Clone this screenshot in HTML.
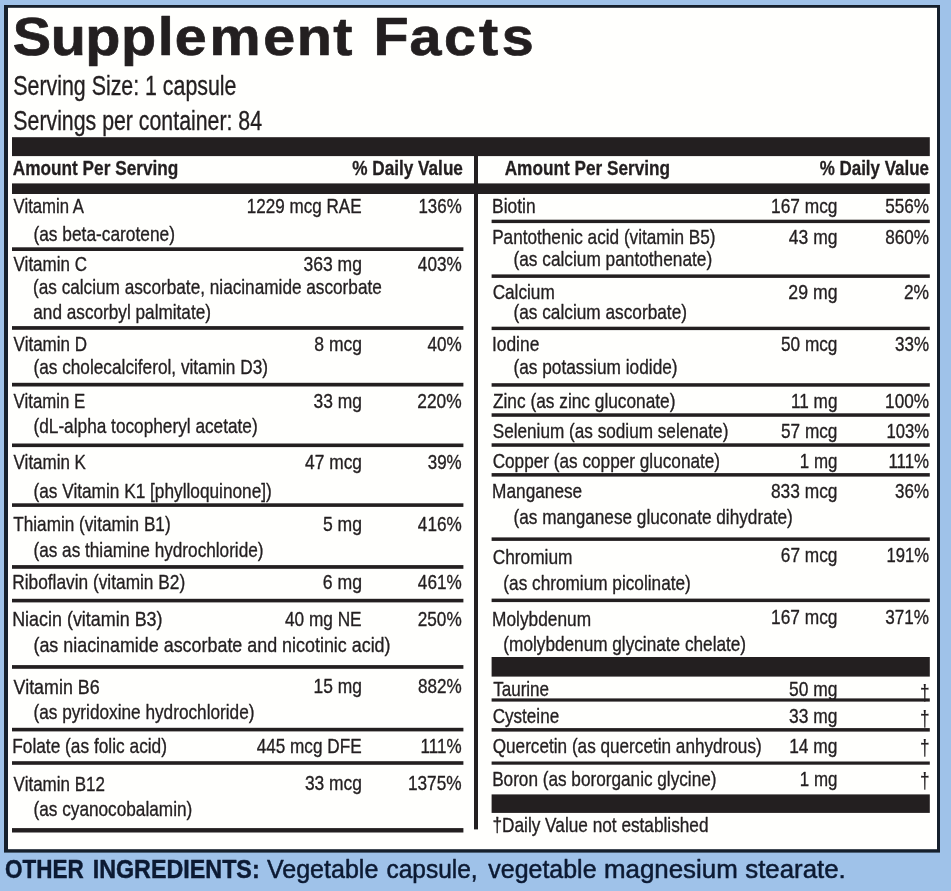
<!DOCTYPE html>
<html lang="en"><head><meta charset="utf-8"><title>Supplement Facts</title>
<style>
html,body{margin:0;padding:0;background:#9fc2e9;}
body{width:951px;height:891px;overflow:hidden;}
svg{display:block;}
text{font-family:"Liberation Sans",sans-serif;white-space:pre;}
.b{font-weight:bold;}
</style></head><body>
<svg width="951" height="891" viewBox="0 0 951 891">
<rect x="0" y="0" width="951" height="891" fill="#9fc2e9"/>
<rect x="4" y="5" width="936" height="847.6" fill="#16202c"/>
<rect x="8" y="7.8" width="929" height="841.4" fill="#fffffd"/>

<rect x="12.00" y="137.20" width="917.80" height="18.90" fill="#231f20"/>
<rect x="12.00" y="183.40" width="917.80" height="10.60" fill="#231f20"/>
<rect x="474.00" y="150.00" width="4.00" height="679.40" fill="#231f20"/>
<rect x="12.00" y="247.30" width="451.40" height="3.70" fill="#231f20"/>
<rect x="12.00" y="326.10" width="451.40" height="3.70" fill="#231f20"/>
<rect x="12.00" y="382.80" width="451.40" height="3.70" fill="#231f20"/>
<rect x="12.00" y="443.50" width="451.40" height="3.60" fill="#231f20"/>
<rect x="12.00" y="503.30" width="451.40" height="3.60" fill="#231f20"/>
<rect x="12.00" y="565.10" width="451.40" height="3.70" fill="#231f20"/>
<rect x="12.00" y="598.80" width="451.40" height="3.60" fill="#231f20"/>
<rect x="12.00" y="665.10" width="451.40" height="3.70" fill="#231f20"/>
<rect x="12.00" y="727.80" width="451.40" height="3.60" fill="#231f20"/>
<rect x="12.00" y="761.20" width="451.40" height="3.60" fill="#231f20"/>
<rect x="12.00" y="828.10" width="451.40" height="4.40" fill="#231f20"/>
<rect x="491.60" y="219.70" width="438.20" height="3.40" fill="#231f20"/>
<rect x="491.60" y="274.40" width="438.20" height="3.50" fill="#231f20"/>
<rect x="491.60" y="326.70" width="438.20" height="3.40" fill="#231f20"/>
<rect x="491.60" y="383.20" width="438.20" height="3.50" fill="#231f20"/>
<rect x="491.60" y="413.30" width="438.20" height="3.50" fill="#231f20"/>
<rect x="491.60" y="443.30" width="438.20" height="3.50" fill="#231f20"/>
<rect x="491.60" y="473.10" width="438.20" height="3.50" fill="#231f20"/>
<rect x="491.60" y="537.40" width="438.20" height="3.50" fill="#231f20"/>
<rect x="491.60" y="598.60" width="438.20" height="3.50" fill="#231f20"/>
<rect x="491.60" y="698.40" width="438.20" height="3.20" fill="#231f20"/>
<rect x="491.60" y="728.10" width="438.20" height="3.50" fill="#231f20"/>
<rect x="491.60" y="761.50" width="438.20" height="3.20" fill="#231f20"/>
<rect x="491.60" y="657.00" width="438.20" height="19.60" fill="#231f20"/>
<rect x="491.60" y="794.40" width="438.20" height="18.50" fill="#231f20"/>
<text class="b" transform="scale(1.085,1)" x="11.77 46.69 78.56 111.47 145.43 161.15 193.15 242.58 273.56 307.25 331.80 344.24 377.36 409.27 441.49 462.53" y="55.5" font-size="53.0" fill="#231f20" stroke="#231f20" stroke-width="0.7" stroke-linejoin="round">Supplement Facts</text>
<text x="13.34" y="94.80" font-size="27.0" fill="#231f20" stroke="#231f20" stroke-width="0.35" stroke-linejoin="round" textLength="223.14" lengthAdjust="spacingAndGlyphs">Serving Size: 1 capsule</text>
<text x="13.34" y="129.60" font-size="27.0" fill="#231f20" stroke="#231f20" stroke-width="0.35" stroke-linejoin="round" textLength="248.72" lengthAdjust="spacingAndGlyphs">Servings per container: 84</text>
<text class="b" x="12.76" y="174.90" font-size="20.3" fill="#231f20" stroke="#231f20" stroke-width="0.3" stroke-linejoin="round" textLength="165.58" lengthAdjust="spacingAndGlyphs">Amount Per Serving</text>
<text class="b" x="352.26" y="174.90" font-size="20.3" fill="#231f20" stroke="#231f20" stroke-width="0.3" stroke-linejoin="round" textLength="110.68" lengthAdjust="spacingAndGlyphs">% Daily Value</text>
<text class="b" x="504.66" y="174.90" font-size="20.3" fill="#231f20" stroke="#231f20" stroke-width="0.3" stroke-linejoin="round" textLength="165.48" lengthAdjust="spacingAndGlyphs">Amount Per Serving</text>
<text class="b" x="819.66" y="174.90" font-size="20.3" fill="#231f20" stroke="#231f20" stroke-width="0.3" stroke-linejoin="round" textLength="109.37" lengthAdjust="spacingAndGlyphs">% Daily Value</text>
<text x="13.60" y="212.70" font-size="20.8" fill="#231f20" stroke="#231f20" stroke-width="0.35" stroke-linejoin="round" textLength="70.35" lengthAdjust="spacingAndGlyphs">Vitamin A</text>
<text x="246.82" y="212.70" font-size="20.8" fill="#231f20" stroke="#231f20" stroke-width="0.35" stroke-linejoin="round" textLength="114.80" lengthAdjust="spacingAndGlyphs">1229 mcg RAE</text>
<text x="418.43" y="212.70" font-size="20.8" fill="#231f20" stroke="#231f20" stroke-width="0.35" stroke-linejoin="round" textLength="43.25" lengthAdjust="spacingAndGlyphs">136%</text>
<text x="33.46" y="241.40" font-size="20.8" fill="#231f20" stroke="#231f20" stroke-width="0.35" stroke-linejoin="round" textLength="141.54" lengthAdjust="spacingAndGlyphs">(as beta-carotene)</text>
<text x="13.60" y="271.30" font-size="20.8" fill="#231f20" stroke="#231f20" stroke-width="0.35" stroke-linejoin="round" textLength="73.33" lengthAdjust="spacingAndGlyphs">Vitamin C</text>
<text x="303.49" y="271.30" font-size="20.8" fill="#231f20" stroke="#231f20" stroke-width="0.35" stroke-linejoin="round" textLength="58.49" lengthAdjust="spacingAndGlyphs">363 mg</text>
<text x="417.86" y="271.30" font-size="20.8" fill="#231f20" stroke="#231f20" stroke-width="0.35" stroke-linejoin="round" textLength="43.83" lengthAdjust="spacingAndGlyphs">403%</text>
<text x="32.97" y="294.40" font-size="20.8" fill="#231f20" stroke="#231f20" stroke-width="0.35" stroke-linejoin="round" textLength="348.84" lengthAdjust="spacingAndGlyphs">(as calcium ascorbate, niacinamide ascorbate</text>
<text x="33.31" y="318.60" font-size="20.8" fill="#231f20" stroke="#231f20" stroke-width="0.35" stroke-linejoin="round" textLength="177.68" lengthAdjust="spacingAndGlyphs">and ascorbyl palmitate)</text>
<text x="13.60" y="350.80" font-size="20.8" fill="#231f20" stroke="#231f20" stroke-width="0.35" stroke-linejoin="round" textLength="73.50" lengthAdjust="spacingAndGlyphs">Vitamin D</text>
<text x="314.30" y="350.80" font-size="20.8" fill="#231f20" stroke="#231f20" stroke-width="0.35" stroke-linejoin="round" textLength="47.67" lengthAdjust="spacingAndGlyphs">8 mcg</text>
<text x="427.46" y="350.80" font-size="20.8" fill="#231f20" stroke="#231f20" stroke-width="0.35" stroke-linejoin="round" textLength="34.23" lengthAdjust="spacingAndGlyphs">40%</text>
<text x="33.47" y="373.90" font-size="20.8" fill="#231f20" stroke="#231f20" stroke-width="0.35" stroke-linejoin="round" textLength="234.53" lengthAdjust="spacingAndGlyphs">(as cholecalciferol, vitamin D3)</text>
<text x="13.60" y="407.50" font-size="20.8" fill="#231f20" stroke="#231f20" stroke-width="0.35" stroke-linejoin="round" textLength="71.61" lengthAdjust="spacingAndGlyphs">Vitamin E</text>
<text x="313.59" y="407.50" font-size="20.8" fill="#231f20" stroke="#231f20" stroke-width="0.35" stroke-linejoin="round" textLength="48.37" lengthAdjust="spacingAndGlyphs">33 mg</text>
<text x="417.33" y="407.50" font-size="20.8" fill="#231f20" stroke="#231f20" stroke-width="0.35" stroke-linejoin="round" textLength="44.36" lengthAdjust="spacingAndGlyphs">220%</text>
<text x="33.47" y="433.20" font-size="20.8" fill="#231f20" stroke="#231f20" stroke-width="0.35" stroke-linejoin="round" textLength="224.23" lengthAdjust="spacingAndGlyphs">(dL-alpha tocopheryl acetate)</text>
<text x="13.60" y="469.40" font-size="20.8" fill="#231f20" stroke="#231f20" stroke-width="0.35" stroke-linejoin="round" textLength="72.32" lengthAdjust="spacingAndGlyphs">Vitamin K</text>
<text x="305.05" y="469.40" font-size="20.8" fill="#231f20" stroke="#231f20" stroke-width="0.35" stroke-linejoin="round" textLength="56.91" lengthAdjust="spacingAndGlyphs">47 mcg</text>
<text x="427.71" y="469.40" font-size="20.8" fill="#231f20" stroke="#231f20" stroke-width="0.35" stroke-linejoin="round" textLength="33.97" lengthAdjust="spacingAndGlyphs">39%</text>
<text x="33.47" y="498.10" font-size="20.8" fill="#231f20" stroke="#231f20" stroke-width="0.35" stroke-linejoin="round" textLength="238.33" lengthAdjust="spacingAndGlyphs">(as Vitamin K1 [phylloquinone])</text>
<text x="13.26" y="530.50" font-size="20.8" fill="#231f20" stroke="#231f20" stroke-width="0.35" stroke-linejoin="round" textLength="157.34" lengthAdjust="spacingAndGlyphs">Thiamin (vitamin B1)</text>
<text x="322.90" y="530.50" font-size="20.8" fill="#231f20" stroke="#231f20" stroke-width="0.35" stroke-linejoin="round" textLength="39.08" lengthAdjust="spacingAndGlyphs">5 mg</text>
<text x="417.86" y="530.50" font-size="20.8" fill="#231f20" stroke="#231f20" stroke-width="0.35" stroke-linejoin="round" textLength="43.83" lengthAdjust="spacingAndGlyphs">416%</text>
<text x="33.47" y="557.40" font-size="20.8" fill="#231f20" stroke="#231f20" stroke-width="0.35" stroke-linejoin="round" textLength="230.03" lengthAdjust="spacingAndGlyphs">(as as thiamine hydrochloride)</text>
<text x="12.22" y="589.30" font-size="20.8" fill="#231f20" stroke="#231f20" stroke-width="0.35" stroke-linejoin="round" textLength="172.99" lengthAdjust="spacingAndGlyphs">Riboflavin (vitamin B2)</text>
<text x="322.72" y="589.30" font-size="20.8" fill="#231f20" stroke="#231f20" stroke-width="0.35" stroke-linejoin="round" textLength="39.26" lengthAdjust="spacingAndGlyphs">6 mg</text>
<text x="417.86" y="589.30" font-size="20.8" fill="#231f20" stroke="#231f20" stroke-width="0.35" stroke-linejoin="round" textLength="43.83" lengthAdjust="spacingAndGlyphs">461%</text>
<text x="12.17" y="625.80" font-size="20.8" fill="#231f20" stroke="#231f20" stroke-width="0.35" stroke-linejoin="round" textLength="150.37" lengthAdjust="spacingAndGlyphs">Niacin (vitamin B3)</text>
<text x="284.96" y="625.80" font-size="20.8" fill="#231f20" stroke="#231f20" stroke-width="0.35" stroke-linejoin="round" textLength="76.67" lengthAdjust="spacingAndGlyphs">40 mg NE</text>
<text x="417.74" y="625.80" font-size="20.8" fill="#231f20" stroke="#231f20" stroke-width="0.35" stroke-linejoin="round" textLength="43.95" lengthAdjust="spacingAndGlyphs">250%</text>
<text x="33.43" y="652.00" font-size="20.8" fill="#231f20" stroke="#231f20" stroke-width="0.35" stroke-linejoin="round" textLength="357.11" lengthAdjust="spacingAndGlyphs">(as niacinamide ascorbate and nicotinic acid)</text>
<text x="13.60" y="693.90" font-size="20.8" fill="#231f20" stroke="#231f20" stroke-width="0.35" stroke-linejoin="round" textLength="86.03" lengthAdjust="spacingAndGlyphs">Vitamin B6</text>
<text x="313.59" y="693.40" font-size="20.8" fill="#231f20" stroke="#231f20" stroke-width="0.35" stroke-linejoin="round" textLength="48.37" lengthAdjust="spacingAndGlyphs">15 mg</text>
<text x="417.92" y="693.40" font-size="20.8" fill="#231f20" stroke="#231f20" stroke-width="0.35" stroke-linejoin="round" textLength="43.77" lengthAdjust="spacingAndGlyphs">882%</text>
<text x="33.47" y="719.10" font-size="20.8" fill="#231f20" stroke="#231f20" stroke-width="0.35" stroke-linejoin="round" textLength="221.03" lengthAdjust="spacingAndGlyphs">(as pyridoxine hydrochloride)</text>
<text x="12.22" y="752.70" font-size="20.8" fill="#231f20" stroke="#231f20" stroke-width="0.35" stroke-linejoin="round" textLength="154.79" lengthAdjust="spacingAndGlyphs">Folate (as folic acid)</text>
<text x="256.66" y="752.70" font-size="20.8" fill="#231f20" stroke="#231f20" stroke-width="0.35" stroke-linejoin="round" textLength="104.96" lengthAdjust="spacingAndGlyphs">445 mcg DFE</text>
<text x="420.62" y="752.70" font-size="20.8" fill="#231f20" stroke="#231f20" stroke-width="0.35" stroke-linejoin="round" textLength="41.06" lengthAdjust="spacingAndGlyphs">111%</text>
<text x="13.60" y="791.10" font-size="20.8" fill="#231f20" stroke="#231f20" stroke-width="0.35" stroke-linejoin="round" textLength="91.38" lengthAdjust="spacingAndGlyphs">Vitamin B12</text>
<text x="304.89" y="790.00" font-size="20.8" fill="#231f20" stroke="#231f20" stroke-width="0.35" stroke-linejoin="round" textLength="57.07" lengthAdjust="spacingAndGlyphs">33 mcg</text>
<text x="407.90" y="790.00" font-size="20.8" fill="#231f20" stroke="#231f20" stroke-width="0.35" stroke-linejoin="round" textLength="53.79" lengthAdjust="spacingAndGlyphs">1375%</text>
<text x="33.47" y="816.20" font-size="20.8" fill="#231f20" stroke="#231f20" stroke-width="0.35" stroke-linejoin="round" textLength="158.83" lengthAdjust="spacingAndGlyphs">(as cyanocobalamin)</text>
<text x="492.11" y="212.70" font-size="20.8" fill="#231f20" stroke="#231f20" stroke-width="0.35" stroke-linejoin="round" textLength="43.45" lengthAdjust="spacingAndGlyphs">Biotin</text>
<text x="771.00" y="212.70" font-size="20.8" fill="#231f20" stroke="#231f20" stroke-width="0.35" stroke-linejoin="round" textLength="66.46" lengthAdjust="spacingAndGlyphs">167 mcg</text>
<text x="885.21" y="212.70" font-size="20.8" fill="#231f20" stroke="#231f20" stroke-width="0.35" stroke-linejoin="round" textLength="43.87" lengthAdjust="spacingAndGlyphs">556%</text>
<text x="492.13" y="243.50" font-size="20.8" fill="#231f20" stroke="#231f20" stroke-width="0.35" stroke-linejoin="round" textLength="223.37" lengthAdjust="spacingAndGlyphs">Pantothenic acid (vitamin B5)</text>
<text x="788.85" y="243.50" font-size="20.8" fill="#231f20" stroke="#231f20" stroke-width="0.35" stroke-linejoin="round" textLength="48.62" lengthAdjust="spacingAndGlyphs">43 mg</text>
<text x="885.21" y="243.50" font-size="20.8" fill="#231f20" stroke="#231f20" stroke-width="0.35" stroke-linejoin="round" textLength="43.87" lengthAdjust="spacingAndGlyphs">860%</text>
<text x="513.46" y="266.10" font-size="20.8" fill="#231f20" stroke="#231f20" stroke-width="0.35" stroke-linejoin="round" textLength="198.74" lengthAdjust="spacingAndGlyphs">(as calcium pantothenate)</text>
<text x="492.64" y="298.50" font-size="20.8" fill="#231f20" stroke="#231f20" stroke-width="0.35" stroke-linejoin="round" textLength="62.14" lengthAdjust="spacingAndGlyphs">Calcium</text>
<text x="788.32" y="298.50" font-size="20.8" fill="#231f20" stroke="#231f20" stroke-width="0.35" stroke-linejoin="round" textLength="49.17" lengthAdjust="spacingAndGlyphs">29 mg</text>
<text x="903.93" y="298.50" font-size="20.8" fill="#231f20" stroke="#231f20" stroke-width="0.35" stroke-linejoin="round" textLength="25.17" lengthAdjust="spacingAndGlyphs">2%</text>
<text x="513.46" y="318.60" font-size="20.8" fill="#231f20" stroke="#231f20" stroke-width="0.35" stroke-linejoin="round" textLength="173.54" lengthAdjust="spacingAndGlyphs">(as calcium ascorbate)</text>
<text x="491.93" y="350.80" font-size="20.8" fill="#231f20" stroke="#231f20" stroke-width="0.35" stroke-linejoin="round" textLength="47.38" lengthAdjust="spacingAndGlyphs">Iodine</text>
<text x="781.01" y="350.80" font-size="20.8" fill="#231f20" stroke="#231f20" stroke-width="0.35" stroke-linejoin="round" textLength="56.44" lengthAdjust="spacingAndGlyphs">50 mcg</text>
<text x="895.11" y="350.80" font-size="20.8" fill="#231f20" stroke="#231f20" stroke-width="0.35" stroke-linejoin="round" textLength="33.97" lengthAdjust="spacingAndGlyphs">33%</text>
<text x="513.46" y="373.90" font-size="20.8" fill="#231f20" stroke="#231f20" stroke-width="0.35" stroke-linejoin="round" textLength="164.14" lengthAdjust="spacingAndGlyphs">(as potassium iodide)</text>
<text x="492.98" y="407.50" font-size="20.8" fill="#231f20" stroke="#231f20" stroke-width="0.35" stroke-linejoin="round" textLength="182.52" lengthAdjust="spacingAndGlyphs">Zinc (as zinc gluconate)</text>
<text x="791.01" y="407.50" font-size="20.8" fill="#231f20" stroke="#231f20" stroke-width="0.35" stroke-linejoin="round" textLength="46.44" lengthAdjust="spacingAndGlyphs">11 mg</text>
<text x="885.11" y="407.50" font-size="20.8" fill="#231f20" stroke="#231f20" stroke-width="0.35" stroke-linejoin="round" textLength="43.98" lengthAdjust="spacingAndGlyphs">100%</text>
<text x="492.73" y="437.80" font-size="20.8" fill="#231f20" stroke="#231f20" stroke-width="0.35" stroke-linejoin="round" textLength="235.67" lengthAdjust="spacingAndGlyphs">Selenium (as sodium selenate)</text>
<text x="781.01" y="437.80" font-size="20.8" fill="#231f20" stroke="#231f20" stroke-width="0.35" stroke-linejoin="round" textLength="56.44" lengthAdjust="spacingAndGlyphs">57 mcg</text>
<text x="886.45" y="437.80" font-size="20.8" fill="#231f20" stroke="#231f20" stroke-width="0.35" stroke-linejoin="round" textLength="42.62" lengthAdjust="spacingAndGlyphs">103%</text>
<text x="492.64" y="468.10" font-size="20.8" fill="#231f20" stroke="#231f20" stroke-width="0.35" stroke-linejoin="round" textLength="227.46" lengthAdjust="spacingAndGlyphs">Copper (as copper gluconate)</text>
<text x="799.83" y="468.10" font-size="20.8" fill="#231f20" stroke="#231f20" stroke-width="0.35" stroke-linejoin="round" textLength="37.60" lengthAdjust="spacingAndGlyphs">1 mg</text>
<text x="888.43" y="468.10" font-size="20.8" fill="#231f20" stroke="#231f20" stroke-width="0.35" stroke-linejoin="round" textLength="40.64" lengthAdjust="spacingAndGlyphs">111%</text>
<text x="492.12" y="497.70" font-size="20.8" fill="#231f20" stroke="#231f20" stroke-width="0.35" stroke-linejoin="round" textLength="90.09" lengthAdjust="spacingAndGlyphs">Manganese</text>
<text x="770.91" y="497.70" font-size="20.8" fill="#231f20" stroke="#231f20" stroke-width="0.35" stroke-linejoin="round" textLength="66.56" lengthAdjust="spacingAndGlyphs">833 mcg</text>
<text x="895.11" y="497.70" font-size="20.8" fill="#231f20" stroke="#231f20" stroke-width="0.35" stroke-linejoin="round" textLength="33.97" lengthAdjust="spacingAndGlyphs">36%</text>
<text x="513.47" y="524.10" font-size="20.8" fill="#231f20" stroke="#231f20" stroke-width="0.35" stroke-linejoin="round" textLength="279.33" lengthAdjust="spacingAndGlyphs">(as manganese gluconate dihydrate)</text>
<text x="492.63" y="563.50" font-size="20.8" fill="#231f20" stroke="#231f20" stroke-width="0.35" stroke-linejoin="round" textLength="79.86" lengthAdjust="spacingAndGlyphs">Chromium</text>
<text x="780.84" y="561.50" font-size="20.8" fill="#231f20" stroke="#231f20" stroke-width="0.35" stroke-linejoin="round" textLength="56.62" lengthAdjust="spacingAndGlyphs">67 mcg</text>
<text x="886.45" y="561.50" font-size="20.8" fill="#231f20" stroke="#231f20" stroke-width="0.35" stroke-linejoin="round" textLength="42.62" lengthAdjust="spacingAndGlyphs">191%</text>
<text x="503.37" y="589.70" font-size="20.8" fill="#231f20" stroke="#231f20" stroke-width="0.35" stroke-linejoin="round" textLength="187.43" lengthAdjust="spacingAndGlyphs">(as chromium picolinate)</text>
<text x="492.12" y="625.80" font-size="20.8" fill="#231f20" stroke="#231f20" stroke-width="0.35" stroke-linejoin="round" textLength="98.97" lengthAdjust="spacingAndGlyphs">Molybdenum</text>
<text x="771.00" y="624.30" font-size="20.8" fill="#231f20" stroke="#231f20" stroke-width="0.35" stroke-linejoin="round" textLength="66.46" lengthAdjust="spacingAndGlyphs">167 mcg</text>
<text x="885.30" y="624.30" font-size="20.8" fill="#231f20" stroke="#231f20" stroke-width="0.35" stroke-linejoin="round" textLength="43.78" lengthAdjust="spacingAndGlyphs">371%</text>
<text x="503.37" y="650.70" font-size="20.8" fill="#231f20" stroke="#231f20" stroke-width="0.35" stroke-linejoin="round" textLength="242.73" lengthAdjust="spacingAndGlyphs">(molybdenum glycinate chelate)</text>
<text x="493.16" y="695.80" font-size="20.8" fill="#231f20" stroke="#231f20" stroke-width="0.35" stroke-linejoin="round" textLength="55.94" lengthAdjust="spacingAndGlyphs">Taurine</text>
<text x="789.00" y="695.80" font-size="20.8" fill="#231f20" stroke="#231f20" stroke-width="0.35" stroke-linejoin="round" textLength="48.46" lengthAdjust="spacingAndGlyphs">50 mg</text>
<text x="920.08" y="699.50" font-size="22.0" fill="#231f20" stroke="#231f20" stroke-width="0.25" stroke-linejoin="round" textLength="9.55" lengthAdjust="spacingAndGlyphs">†</text>
<text x="492.64" y="723.40" font-size="20.8" fill="#231f20" stroke="#231f20" stroke-width="0.35" stroke-linejoin="round" textLength="66.56" lengthAdjust="spacingAndGlyphs">Cysteine</text>
<text x="789.09" y="723.40" font-size="20.8" fill="#231f20" stroke="#231f20" stroke-width="0.35" stroke-linejoin="round" textLength="48.37" lengthAdjust="spacingAndGlyphs">33 mg</text>
<text x="920.08" y="726.00" font-size="22.0" fill="#231f20" stroke="#231f20" stroke-width="0.25" stroke-linejoin="round" textLength="9.55" lengthAdjust="spacingAndGlyphs">†</text>
<text x="492.73" y="752.60" font-size="20.8" fill="#231f20" stroke="#231f20" stroke-width="0.35" stroke-linejoin="round" textLength="268.97" lengthAdjust="spacingAndGlyphs">Quercetin (as quercetin anhydrous)</text>
<text x="789.20" y="753.20" font-size="20.8" fill="#231f20" stroke="#231f20" stroke-width="0.35" stroke-linejoin="round" textLength="48.26" lengthAdjust="spacingAndGlyphs">14 mg</text>
<text x="920.08" y="755.00" font-size="22.0" fill="#231f20" stroke="#231f20" stroke-width="0.25" stroke-linejoin="round" textLength="9.55" lengthAdjust="spacingAndGlyphs">†</text>
<text x="492.13" y="786.20" font-size="20.8" fill="#231f20" stroke="#231f20" stroke-width="0.35" stroke-linejoin="round" textLength="224.37" lengthAdjust="spacingAndGlyphs">Boron (as bororganic glycine)</text>
<text x="799.83" y="786.20" font-size="20.8" fill="#231f20" stroke="#231f20" stroke-width="0.35" stroke-linejoin="round" textLength="37.60" lengthAdjust="spacingAndGlyphs">1 mg</text>
<text x="920.08" y="788.30" font-size="22.0" fill="#231f20" stroke="#231f20" stroke-width="0.25" stroke-linejoin="round" textLength="9.55" lengthAdjust="spacingAndGlyphs">†</text>
<text x="492.48" y="832.40" font-size="20.8" fill="#231f20" stroke="#231f20" stroke-width="0.35" stroke-linejoin="round" textLength="216.07" lengthAdjust="spacingAndGlyphs">†Daily Value not established</text>
<text y="877.60" font-size="25.6" fill="#0c1a33">
<tspan x="5.10" font-weight="bold" stroke="#0c1a33" stroke-width="0.45" stroke-linejoin="round" textLength="78.69" lengthAdjust="spacingAndGlyphs">OTHER</tspan> <tspan x="92.69" font-weight="bold" stroke="#0c1a33" stroke-width="0.45" stroke-linejoin="round" textLength="166.98" lengthAdjust="spacingAndGlyphs">INGREDIENTS:</tspan> <tspan x="266.90" stroke="#0c1a33" stroke-width="0.5" stroke-linejoin="round" textLength="111.43" lengthAdjust="spacingAndGlyphs">Vegetable</tspan> <tspan x="386.42" stroke="#0c1a33" stroke-width="0.5" stroke-linejoin="round" textLength="91.23" lengthAdjust="spacingAndGlyphs">capsule,</tspan> <tspan x="488.30" stroke="#0c1a33" stroke-width="0.5" stroke-linejoin="round" textLength="108.23" lengthAdjust="spacingAndGlyphs">vegetable</tspan> <tspan x="603.92" stroke="#0c1a33" stroke-width="0.5" stroke-linejoin="round" textLength="133.92" lengthAdjust="spacingAndGlyphs">magnesium</tspan> <tspan x="745.25" stroke="#0c1a33" stroke-width="0.5" stroke-linejoin="round" textLength="100.51" lengthAdjust="spacingAndGlyphs">stearate.</tspan>
</text>
</svg></body></html>
